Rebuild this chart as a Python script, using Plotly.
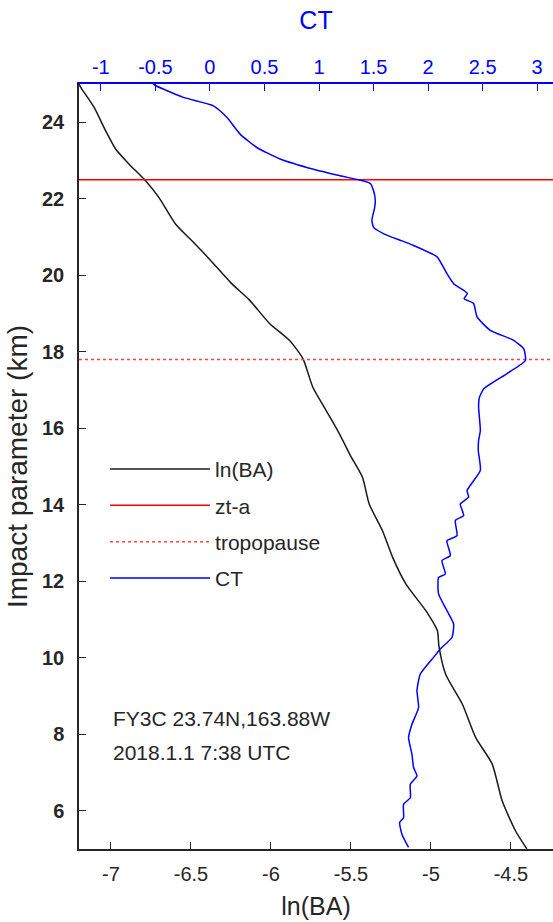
import plotly.graph_objects as go

# ---------------- data ----------------
ba_height = [25.0, 24.92, 24.40, 23.78, 23.30, 22.91, 22.47, 22.03, 21.34, 20.90,
             20.40, 19.80, 19.35, 18.74, 18.30, 17.82, 17.08, 16.47, 15.86, 15.30,
             14.72, 14.02, 13.32, 12.63, 11.93, 11.23, 10.71, 10.30, 9.57, 8.79,
             7.91, 7.22, 6.26, 5.47, 5.0]
ln_ba = [-7.20, -7.19, -7.107, -7.034, -6.971, -6.888, -6.784, -6.70, -6.597, -6.494,
         -6.38, -6.25, -6.134, -6.009, -5.885, -5.80, -5.739, -5.656, -5.573, -5.505,
         -5.428, -5.386, -5.303, -5.24, -5.157, -5.032, -4.96, -4.95, -4.908, -4.804,
         -4.72, -4.617, -4.555, -4.471, -4.40]

ct_height = [25.0, 24.96, 24.65, 24.43, 24.13, 23.69, 23.34, 23.04, 22.77, 22.60,
             22.49, 22.40, 22.21, 21.96, 21.77, 21.44, 21.25, 21.09, 20.90, 20.80,
             20.48, 20.04, 19.78, 19.60, 19.52, 19.39, 19.26, 18.91, 18.56, 18.30,
             18.08, 17.77, 17.43, 17.03, 16.80, 16.55, 15.94, 15.68, 15.42, 14.90,
             14.37, 14.20, 14.02, 13.72, 13.59, 13.19, 13.06, 12.67, 12.54, 12.19,
             12.10, 11.67, 11.23, 10.88, 10.53, 10.23, 10.01, 9.57, 9.14, 8.70,
             8.26, 7.91, 7.48, 7.13, 6.91, 6.69, 6.34, 6.17, 5.82, 5.69,
             5.38, 5.04]
ct = [-0.52, -0.50, -0.243, 0.032, 0.155, 0.277, 0.43, 0.644, 0.95, 1.194,
      1.37, 1.47, 1.50, 1.516, 1.51, 1.485, 1.50, 1.59, 1.76, 1.85,
      2.082, 2.173, 2.234, 2.33, 2.36, 2.33, 2.417, 2.449, 2.57, 2.784,
      2.876, 2.892, 2.724, 2.51, 2.47, 2.463, 2.479, 2.463, 2.46, 2.479,
      2.357, 2.372, 2.295, 2.326, 2.25, 2.265, 2.173, 2.204, 2.127, 2.158,
      2.096, 2.096, 2.173, 2.234, 2.219, 2.112, 2.05, 1.928, 1.898, 1.913,
      1.852, 1.821, 1.852, 1.867, 1.898, 1.837, 1.837, 1.775, 1.775, 1.739,
      1.761, 1.821]

zta_height = 22.5
tropopause_height = 17.8

ln_ba_range = [-7.2, -4.237]
ct_range = [-1.2, 3.145]
height_range = [5, 25]

ln_ba_ticks = [-7, -6.5, -6, -5.5, -5, -4.5]
ln_ba_ticktext = ["-7", "-6.5", "-6", "-5.5", "-5", "-4.5"]
ct_ticks = [-1, -0.5, 0, 0.5, 1, 1.5, 2, 2.5, 3]
ct_ticktext = ["-1", "-0.5", "0", "0.5", "1", "1.5", "2", "2.5", "3"]
height_ticks = [6, 8, 10, 12, 14, 16, 18, 20, 22, 24]

info_lines = ["FY3C 23.74N,163.88W", "2018.1.1 7:38 UTC"]

# ---------------- figure ----------------
FONT = "Liberation Sans, Arial, Helvetica, sans-serif"
TXT = "#262626"
BLUE = "#0000ff"

fig = go.Figure()
fig.add_trace(go.Scatter(x=ln_ba, y=ba_height, mode="lines", name="ln(BA)",
                         line=dict(color="#1a1a1a", width=1.5, shape="spline", smoothing=0.6),
                         legendgroup="a", xaxis="x", yaxis="y"))
fig.add_trace(go.Scatter(x=ln_ba_range, y=[zta_height, zta_height], mode="lines", name="zt-a",
                         line=dict(color="#ff0000", width=1.5),
                         legendgroup="b", xaxis="x", yaxis="y"))
fig.add_trace(go.Scatter(x=ln_ba_range, y=[tropopause_height, tropopause_height], mode="lines",
                         name="tropopause",
                         line=dict(color="#ff4040", width=1.5, dash="dot"),
                         legendgroup="c", xaxis="x", yaxis="y"))
fig.add_trace(go.Scatter(x=ct, y=ct_height, mode="lines", name="CT",
                         line=dict(color=BLUE, width=1.5, shape="spline", smoothing=0.5),
                         legendgroup="d", xaxis="x2", yaxis="y"))

fig.update_layout(
    width=553, height=922,
    margin=dict(l=79, r=0, t=84, b=73),
    plot_bgcolor="white", paper_bgcolor="white",
    font=dict(family=FONT, color=TXT, size=20),
    showlegend=True,
    legend=dict(x=0.055, y=0.523, xanchor="left", yanchor="top",
                bgcolor="rgba(0,0,0,0)", borderwidth=0,
                itemwidth=100, traceorder="grouped", tracegroupgap=6,
                font=dict(family=FONT, size=21, color=TXT)),
    xaxis=dict(range=ln_ba_range, tickvals=ln_ba_ticks, ticktext=ln_ba_ticktext,
               ticks="inside", ticklen=7, tickwidth=1, tickcolor=TXT,
               showline=True, linecolor=TXT, linewidth=1.5, mirror=False,
               showgrid=False, zeroline=False, ticklabelstandoff=6,
               tickfont=dict(family=FONT, size=20, color=TXT),
               title=dict(text="ln(BA)", font=dict(family=FONT, size=25, color=TXT), standoff=14)),
    xaxis2=dict(range=ct_range, overlaying="x", side="top", anchor="y",
                tickvals=ct_ticks, ticktext=ct_ticktext,
                ticks="inside", ticklen=7, tickwidth=1, tickcolor=BLUE,
                showline=True, linecolor=BLUE, linewidth=1.5,
                showgrid=False, zeroline=False,
                tickfont=dict(family=FONT, size=20, color=BLUE),
                title=dict(text="CT", font=dict(family=FONT, size=25, color=BLUE), standoff=20)),
    yaxis=dict(range=height_range, tickvals=height_ticks,
               ticks="inside", ticklen=7, tickwidth=1, tickcolor=TXT,
               showline=True, linecolor=TXT, linewidth=1.5, mirror=False,
               showgrid=False, zeroline=False, ticklabelstandoff=9,
               tickfont=dict(family=FONT, size=20, color=TXT, weight="bold"),
               title=dict(text="Impact parameter (km)", font=dict(family=FONT, size=28, color=TXT),
                          standoff=6)),
)

for i, line in enumerate(info_lines):
    fig.add_annotation(text=line, xref="paper", yref="paper",
                       x=0.068, y=0.171 - i * 0.0455, xanchor="left", yanchor="middle",
                       showarrow=False, font=dict(family=FONT, size=21, color=TXT))

fig.write_html("out.html")
